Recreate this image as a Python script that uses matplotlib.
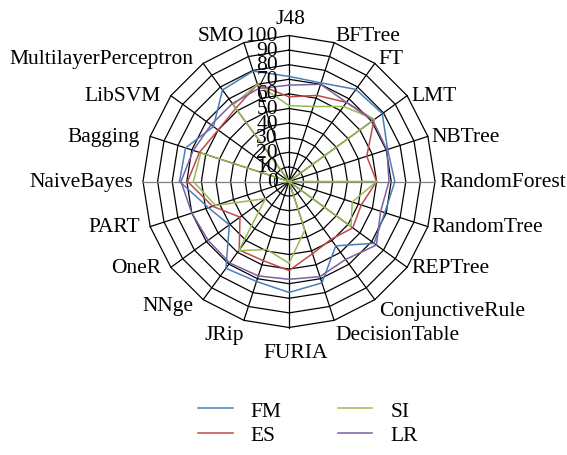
import numpy as np
import matplotlib
matplotlib.use("Agg")
import matplotlib.pyplot as plt
from matplotlib.lines import Line2D

plt.rcParams["font.family"] = ["Liberation Serif", "DejaVu Serif"]

# classifiers, clockwise from the top
classifiers = ["J48", "BFTree", "FT", "LMT", "NBTree", "RandomForest", "RandomTree",
               "REPTree", "ConjunctiveRule", "DecisionTable", "FURIA", "JRip", "NNge",
               "OneR", "PART", "NaiveBayes", "Bagging", "LibSVM", "MultilayerPerceptron", "SMO"]

fm = [72, 71, 78, 79, 71, 72.5, 69, 72, 54.5, 73, 76, 72, 73.5, 50.5, 58, 75, 74.5, 64, 77.5, 79.5]
es = [58, 62, 67, 72, 56, 60, 52, 54, 49, 52, 61, 57, 58, 41.5, 55, 69.5, 64.5, 60, 62, 70]
si = [52, 54, 63.5, 72.5, 0, 60, 45.5, 52.5, 0, 35, 56, 49, 58.5, 20, 53, 65.5, 63.5, 0, 65, 70]
lr = [66, 70, 67, 71, 70.5, 68.5, 66, 74, 66, 68.5, 67, 68, 69, 68.5, 70, 74, 69, 66, 66, 67]

series = ["FM", "ES", "SI", "LR"]
colors = ["#4a7ebb", "#be4b48", "#98b954", "#7d60a0"]
levels = list(range(0, 101, 10))

n = len(classifiers)
theta = np.arange(n) * 2 * np.pi / n
theta_c = np.append(theta, theta[0])
fs = 15.5
PT = 0.72  # points per pixel at dpi 100

fig = plt.figure(figsize=(5.67, 4.56), dpi=100)
cx, cy = 289 / 567, 1 - 182.5 / 456
w, h = 2 * 146 / 567, 2 * 146 / 456
ax = fig.add_axes([cx - w / 2, cy - h / 2, w, h], projection="polar")
ax.set_theta_zero_location("N")
ax.set_theta_direction(-1)
ax.set_ylim(0, 100)
ax.set_axis_off()

# polygon web
for lv in levels[1:]:
    ax.plot(theta_c, [lv] * (n + 1), color="black", lw=0.9, clip_on=False, zorder=1)
for i, t in enumerate(theta):
    col = "#7f7f7f" if i in (5, 15) else "black"
    ax.plot([t, t], [0, 100], color=col, lw=0.9, clip_on=False, zorder=1)

for vals, col in zip([fm, es, si, lr], colors):
    ax.plot(theta_c, vals + vals[:1], color=col, lw=1.1, clip_on=False, zorder=3)

# value labels along the top spoke
for lv in levels:
    ax.annotate(str(lv), xy=(0, lv), xytext=(-8, 0), textcoords="offset points",
                ha="right", va="center", fontsize=fs, zorder=4, annotation_clip=False)


def label_offset(s, c):
    # pixel offset of a category label from the outer vertex
    if abs(s) < 0.1:
        return ("center", 2, 16.5) if c > 0 else ("center", 7, -25)
    if s > 0:
        ha, dx = "left", (1 if s < 0.35 else 4)
    else:
        ha, dx = "right", (0 if abs(s) < 0.35 else -10)
    if c > 0.9:
        dy = 7.5
    elif c > 0.7:
        dy = 5
    elif c < -0.9:
        dy = -14.5
    elif c < -0.7:
        dy = -11 if s > 0 else -6
    else:
        dy = 0
    return ha, dx, dy


for t, name in zip(theta, classifiers):
    ha, dx, dy = label_offset(np.sin(t), np.cos(t))
    ax.annotate(name, xy=(t, 100), xytext=(dx * PT, dy * PT), textcoords="offset points",
                ha=ha, va="center", fontsize=fs, annotation_clip=False)

handles = [Line2D([], [], color=c, lw=1.1) for c in colors]
fig.legend(handles, series, loc="center", bbox_to_anchor=(308 / 567, 1 - 424 / 456),
           ncol=2, frameon=False, fontsize=fs, handlelength=1.6, handletextpad=0.85,
           columnspacing=2.6, labelspacing=0.2)

fig.savefig("out.png", dpi=100)
